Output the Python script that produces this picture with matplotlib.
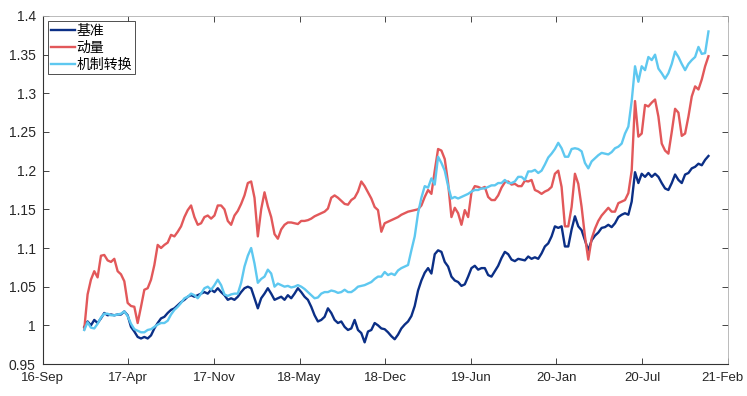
import numpy as np
import pandas as pd
import matplotlib
matplotlib.use('Agg')
import matplotlib.pyplot as plt
import matplotlib.dates as mdates
from matplotlib.transforms import ScaledTranslation

plt.rcParams['font.family'] = ['Liberation Sans', 'Noto Sans CJK SC', 'DejaVu Sans']

# weekly-ish samples, Jan 2017 .. Dec 2020
dates = pd.date_range('2017-01-03', '2020-12-31', periods=188)

benchmark = [
    0.998, 1.005, 1.000, 1.007, 1.003, 1.009, 1.016, 1.013, 1.014, 1.013, 1.014, 1.014, 1.018,
    1.013, 0.998, 0.992, 0.985, 0.983, 0.985, 0.983, 0.987, 0.996, 1.003, 1.009, 1.011, 1.016,
    1.020, 1.022, 1.026, 1.030, 1.033, 1.037, 1.039, 1.037, 1.039, 1.041, 1.043, 1.041, 1.046,
    1.043, 1.048, 1.043, 1.039, 1.033, 1.035, 1.033, 1.037, 1.043, 1.048, 1.050, 1.048, 1.035, 1.022,
    1.035, 1.041, 1.048, 1.041, 1.033, 1.035, 1.037, 1.033, 1.039, 1.035, 1.041, 1.048, 1.043,
    1.037, 1.033, 1.024, 1.013, 1.005, 1.007, 1.011, 1.022, 1.016, 1.007, 1.003, 1.005, 0.998, 0.994,
    0.996, 1.007, 0.994, 0.990, 0.978, 0.992, 0.994, 1.003, 1.000, 0.996, 0.995, 0.991, 0.986,
    0.982, 0.988, 0.996, 1.001, 1.005, 1.012, 1.025, 1.045, 1.058, 1.068, 1.074, 1.067, 1.092, 1.097,
    1.095, 1.082, 1.076, 1.063, 1.058, 1.056, 1.051, 1.053, 1.063, 1.074, 1.077, 1.072, 1.074,
    1.074, 1.065, 1.063, 1.070, 1.077, 1.087, 1.095, 1.092, 1.085, 1.083, 1.086, 1.085, 1.084, 1.089,
    1.086, 1.088, 1.086, 1.093, 1.102, 1.106, 1.115, 1.128, 1.126, 1.128, 1.102, 1.102, 1.124,
    1.141, 1.128, 1.123, 1.110, 1.097, 1.110, 1.116, 1.120, 1.126, 1.127, 1.130, 1.127, 1.132, 1.140,
    1.143, 1.145, 1.143, 1.160, 1.198, 1.184, 1.196, 1.192, 1.197, 1.192, 1.196, 1.192, 1.184,
    1.177, 1.175, 1.184, 1.195, 1.188, 1.184, 1.195, 1.197, 1.203, 1.205, 1.209, 1.207, 1.214, 1.219,
]

momentum = [
    0.995, 1.040, 1.059, 1.070, 1.062, 1.090, 1.091, 1.084, 1.082, 1.086, 1.070, 1.066, 1.057,
    1.029, 1.025, 1.024, 1.003, 1.024, 1.046, 1.048, 1.059, 1.078, 1.104, 1.100, 1.104, 1.107,
    1.117, 1.115, 1.121, 1.128, 1.140, 1.149, 1.155, 1.140, 1.130, 1.132, 1.140, 1.142, 1.138,
    1.142, 1.155, 1.155, 1.150, 1.135, 1.130, 1.142, 1.148, 1.157, 1.168, 1.184, 1.186, 1.165, 1.115,
    1.150, 1.172, 1.154, 1.140, 1.118, 1.112, 1.124, 1.130, 1.133, 1.133, 1.132, 1.131, 1.135,
    1.135, 1.136, 1.138, 1.141, 1.143, 1.145, 1.147, 1.151, 1.165, 1.168, 1.165, 1.161, 1.157, 1.156,
    1.162, 1.165, 1.173, 1.186, 1.180, 1.172, 1.164, 1.153, 1.149, 1.121, 1.132, 1.134, 1.136,
    1.138, 1.140, 1.143, 1.145, 1.147, 1.148, 1.149, 1.150, 1.155, 1.166, 1.175, 1.170, 1.200, 1.228,
    1.226, 1.215, 1.184, 1.140, 1.152, 1.145, 1.130, 1.149, 1.140, 1.172, 1.180, 1.179, 1.177,
    1.179, 1.166, 1.162, 1.162, 1.168, 1.178, 1.185, 1.186, 1.182, 1.183, 1.180, 1.180, 1.187, 1.186,
    1.188, 1.175, 1.173, 1.170, 1.173, 1.175, 1.179, 1.196, 1.200, 1.179, 1.128, 1.128, 1.153,
    1.196, 1.183, 1.153, 1.115, 1.085, 1.112, 1.125, 1.135, 1.142, 1.147, 1.152, 1.147, 1.147, 1.158,
    1.160, 1.162, 1.171, 1.200, 1.290, 1.244, 1.248, 1.285, 1.283, 1.288, 1.292, 1.270, 1.235,
    1.226, 1.222, 1.250, 1.280, 1.275, 1.245, 1.248, 1.270, 1.296, 1.309, 1.305, 1.318, 1.335, 1.348,
]

regime = [
    0.994, 1.004, 0.997, 0.996, 1.002, 1.010, 1.015, 1.015, 1.013, 1.013, 1.014, 1.015, 1.018,
    1.012, 1.002, 0.995, 0.993, 0.991, 0.991, 0.994, 0.995, 0.998, 1.001, 1.003, 1.003, 1.006,
    1.014, 1.020, 1.024, 1.029, 1.035, 1.037, 1.041, 1.039, 1.035, 1.041, 1.048, 1.050, 1.046,
    1.052, 1.059, 1.052, 1.040, 1.038, 1.040, 1.041, 1.041, 1.055, 1.076, 1.090, 1.100, 1.080, 1.055,
    1.060, 1.063, 1.072, 1.067, 1.050, 1.054, 1.052, 1.050, 1.051, 1.049, 1.050, 1.052, 1.050,
    1.047, 1.043, 1.039, 1.035, 1.036, 1.041, 1.043, 1.043, 1.045, 1.044, 1.042, 1.043, 1.046, 1.043,
    1.043, 1.046, 1.050, 1.051, 1.052, 1.054, 1.056, 1.060, 1.063, 1.063, 1.069, 1.065, 1.067,
    1.065, 1.071, 1.074, 1.076, 1.078, 1.097, 1.115, 1.145, 1.165, 1.180, 1.178, 1.190, 1.182, 1.218,
    1.210, 1.200, 1.180, 1.164, 1.166, 1.164, 1.166, 1.168, 1.170, 1.173, 1.175, 1.175, 1.177,
    1.177, 1.179, 1.181, 1.181, 1.184, 1.184, 1.188, 1.184, 1.184, 1.186, 1.192, 1.192, 1.188, 1.199,
    1.199, 1.201, 1.197, 1.200, 1.208, 1.217, 1.222, 1.228, 1.236, 1.229, 1.218, 1.218, 1.228,
    1.229, 1.228, 1.225, 1.210, 1.203, 1.212, 1.216, 1.220, 1.223, 1.222, 1.221, 1.224, 1.229, 1.231,
    1.235, 1.248, 1.257, 1.290, 1.335, 1.315, 1.335, 1.330, 1.347, 1.343, 1.350, 1.332, 1.326,
    1.319, 1.326, 1.338, 1.354, 1.347, 1.338, 1.330, 1.338, 1.343, 1.347, 1.360, 1.351, 1.352, 1.380,
]

series_names = ['基准', '动量', '机制转换']
colors = ['#0b2f86', '#e2585a', '#5ec8f0']

x_labels = ['16-Sep', '17-Apr', '17-Nov', '18-May', '18-Dec', '19-Jun', '20-Jan', '20-Jul', '21-Feb']
y_ticks = [0.95, 1.0, 1.05, 1.1, 1.15, 1.2, 1.25, 1.3, 1.35, 1.4]
y_labels = ['0.95', '1', '1.05', '1.1', '1.15', '1.2', '1.25', '1.3', '1.35', '1.4']

fig = plt.figure(figsize=(7.47, 3.96), dpi=100)
ax = fig.add_axes([0.0572, 0.0808, 0.9170, 0.8788])

for vals, name, c in zip([benchmark, momentum, regime], series_names, colors):
    ax.plot(dates, vals, color=c, lw=1.7, label=name)

# equally spaced date ticks (200 days apart)
t0 = mdates.date2num(pd.Timestamp('2016-09-28'))
xt = t0 + 200 * np.arange(len(x_labels))
ax.set_xticks(xt)
ax.set_xticklabels(x_labels)
ax.set_xlim(xt[0], xt[-1])
ax.set_yticks(y_ticks)
ax.set_yticklabels(y_labels)
ax.set_ylim(0.95, 1.4)

ax.tick_params(direction='in', length=4, width=0.6, labelsize=10, colors='#262626',
               top=True, right=True)
ax.tick_params(axis='x', pad=6, labelsize=9.5)
ax.tick_params(axis='y', pad=5)
# nudge last date label so it stays inside the canvas
last = ax.get_xticklabels()[-1]
last.set_transform(last.get_transform() + ScaledTranslation(-4 / 72, 0, fig.dpi_scale_trans))

for side in ['left', 'bottom']:
    ax.spines[side].set_color('#333333')
    ax.spines[side].set_linewidth(0.8)
for side in ['top', 'right']:
    ax.spines[side].set_color('#b0b0b0')
    ax.spines[side].set_linewidth(0.6)

leg = ax.legend(loc='upper left', bbox_to_anchor=(0.008, 0.985), fancybox=False,
                framealpha=1, edgecolor='#333333', handlelength=1.7, handletextpad=0.15,
                borderpad=0.2, labelspacing=0.2, borderaxespad=0,
                prop={'family': ['Noto Sans CJK SC'], 'size': 10})
leg.get_frame().set_linewidth(0.6)

fig.savefig('out.png', dpi=100)
